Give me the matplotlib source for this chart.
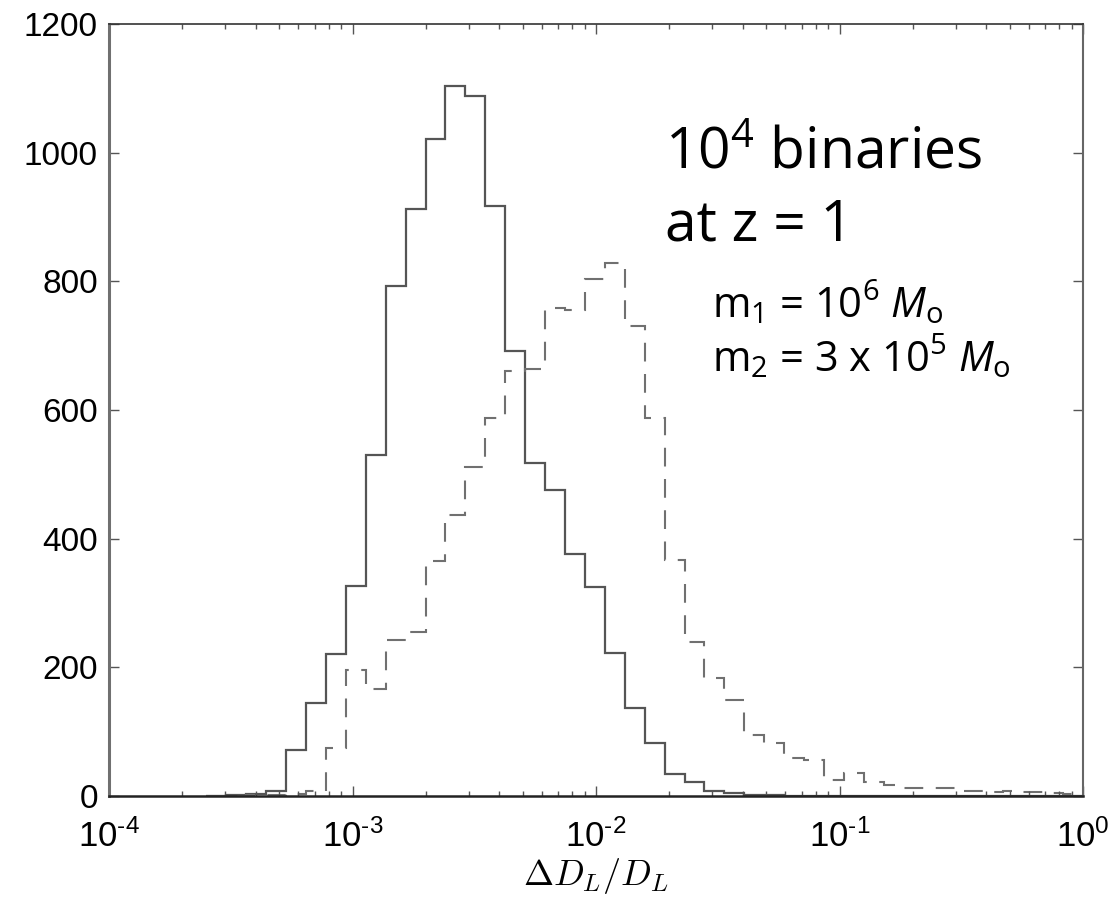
import numpy as np
import matplotlib
matplotlib.use("Agg")
import matplotlib.pyplot as plt

# histogram bins: 44 log-spaced bins between 10^-3.6 and 10^0
bin_lo, bin_hi, n_bins = -3.6, 0.0, 44

# counts per bin (solid and dashed histograms)
solid_counts = [0, 1, 3, 8, 72, 145, 220, 327, 530, 793, 912, 1021, 1104, 1088,
                917, 692, 517, 475, 376, 325, 223, 137, 83, 34, 21, 7, 4, 2, 1,
                0, 0, 0, 0, 0, 0, 0, 0, 0, 0, 0, 0, 0, 0, 0]
dashed_counts = [0, 0, 1, 2, 3, 7, 75, 196, 166, 243, 255, 366, 437, 512,
                 587, 660, 664, 758, 755, 803, 829, 730, 587, 367, 240, 183, 149, 95,
                 83, 59, 56, 25, 36, 22, 17, 12, 12, 12, 8, 6, 8, 6, 5, 3]

xtick_exps = ['-4', '-3', '-2', '-1', '0']
yticks = [0, 200, 400, 600, 800, 1000, 1200]

title_lines = [r"10$^{\mathregular{4}}$ binaries", "at z = 1"]
mass_lines = [r"m$_{\mathregular{1}}$ = 10$^{\mathregular{6}}$ $M_{\mathregular{o}}$",
              r"m$_{\mathregular{2}}$ = 3 x 10$^{\mathregular{5}}$ $M_{\mathregular{o}}$"]

plt.rcParams['mathtext.fontset'] = 'custom'
plt.rcParams['mathtext.rm'] = 'Open Sans'
plt.rcParams['mathtext.it'] = 'Open Sans:italic'

edges = np.logspace(bin_lo, bin_hi, n_bins + 1)

fig = plt.figure(figsize=(11.14, 8.99), dpi=100)
ax = fig.add_axes([109/1114, 1 - 796/899, (1083 - 109)/1114, (796 - 24)/899])

ax.stairs(solid_counts, edges, color='#555555', lw=1.6)
ax.stairs(dashed_counts, edges, color='#707070', lw=1.5, linestyle=(0, (9, 6)))

ax.set_xscale('log')
ax.set_xlim(1e-4, 1)
ax.set_ylim(0, 1200)

ax.set_xticks([10.0**float(e) for e in xtick_exps])
# hyphen-like exponent sign, as in the original
ax.set_xticklabels([r"$\mathregular{10^{\mathregular{%s}}}$" % e.replace('-', '\u2010')
                    for e in xtick_exps],
                   fontfamily='Liberation Sans', fontsize=25)
ax.set_yticks(yticks)
ax.set_yticklabels([str(v) for v in yticks], fontfamily='Liberation Sans', fontsize=24)

ax.tick_params(which='both', direction='in', top=True, right=True, color='#555555', width=1)
ax.tick_params(which='major', length=7)
ax.tick_params(which='minor', length=3.5)
ax.tick_params(axis='x', which='major', pad=17)
ax.tick_params(axis='y', which='major', pad=8)

ax.spines['left'].set_linewidth(2.2)
ax.spines['left'].set_color('#707070')
ax.spines['bottom'].set_linewidth(1.8)
ax.spines['bottom'].set_color('#222222')
ax.spines['top'].set_linewidth(1.2)
ax.spines['top'].set_color('#333333')
ax.spines['right'].set_linewidth(1.5)
ax.spines['right'].set_color('#666666')

ax.set_xlabel(r"$\Delta D_L/D_L$", fontsize=26, math_fontfamily='cm')
ax.xaxis.set_label_coords(0.5, -0.1295)
ax.xaxis.label.set_va('bottom')

# annotation
ax.text(0.5704, 0.8131, title_lines[0], transform=ax.transAxes, fontsize=41,
        fontfamily='Open Sans', va='baseline')
ax.text(0.5704, 0.7202, title_lines[1], transform=ax.transAxes, fontsize=41,
        fontfamily='Open Sans', va='baseline')
ax.text(0.6195, 0.6188, mass_lines[0], transform=ax.transAxes, fontsize=30,
        fontfamily='Open Sans', va='baseline')
ax.text(0.6195, 0.5496, mass_lines[1], transform=ax.transAxes, fontsize=30,
        fontfamily='Open Sans', va='baseline')

fig.savefig("out.png", dpi=100)
